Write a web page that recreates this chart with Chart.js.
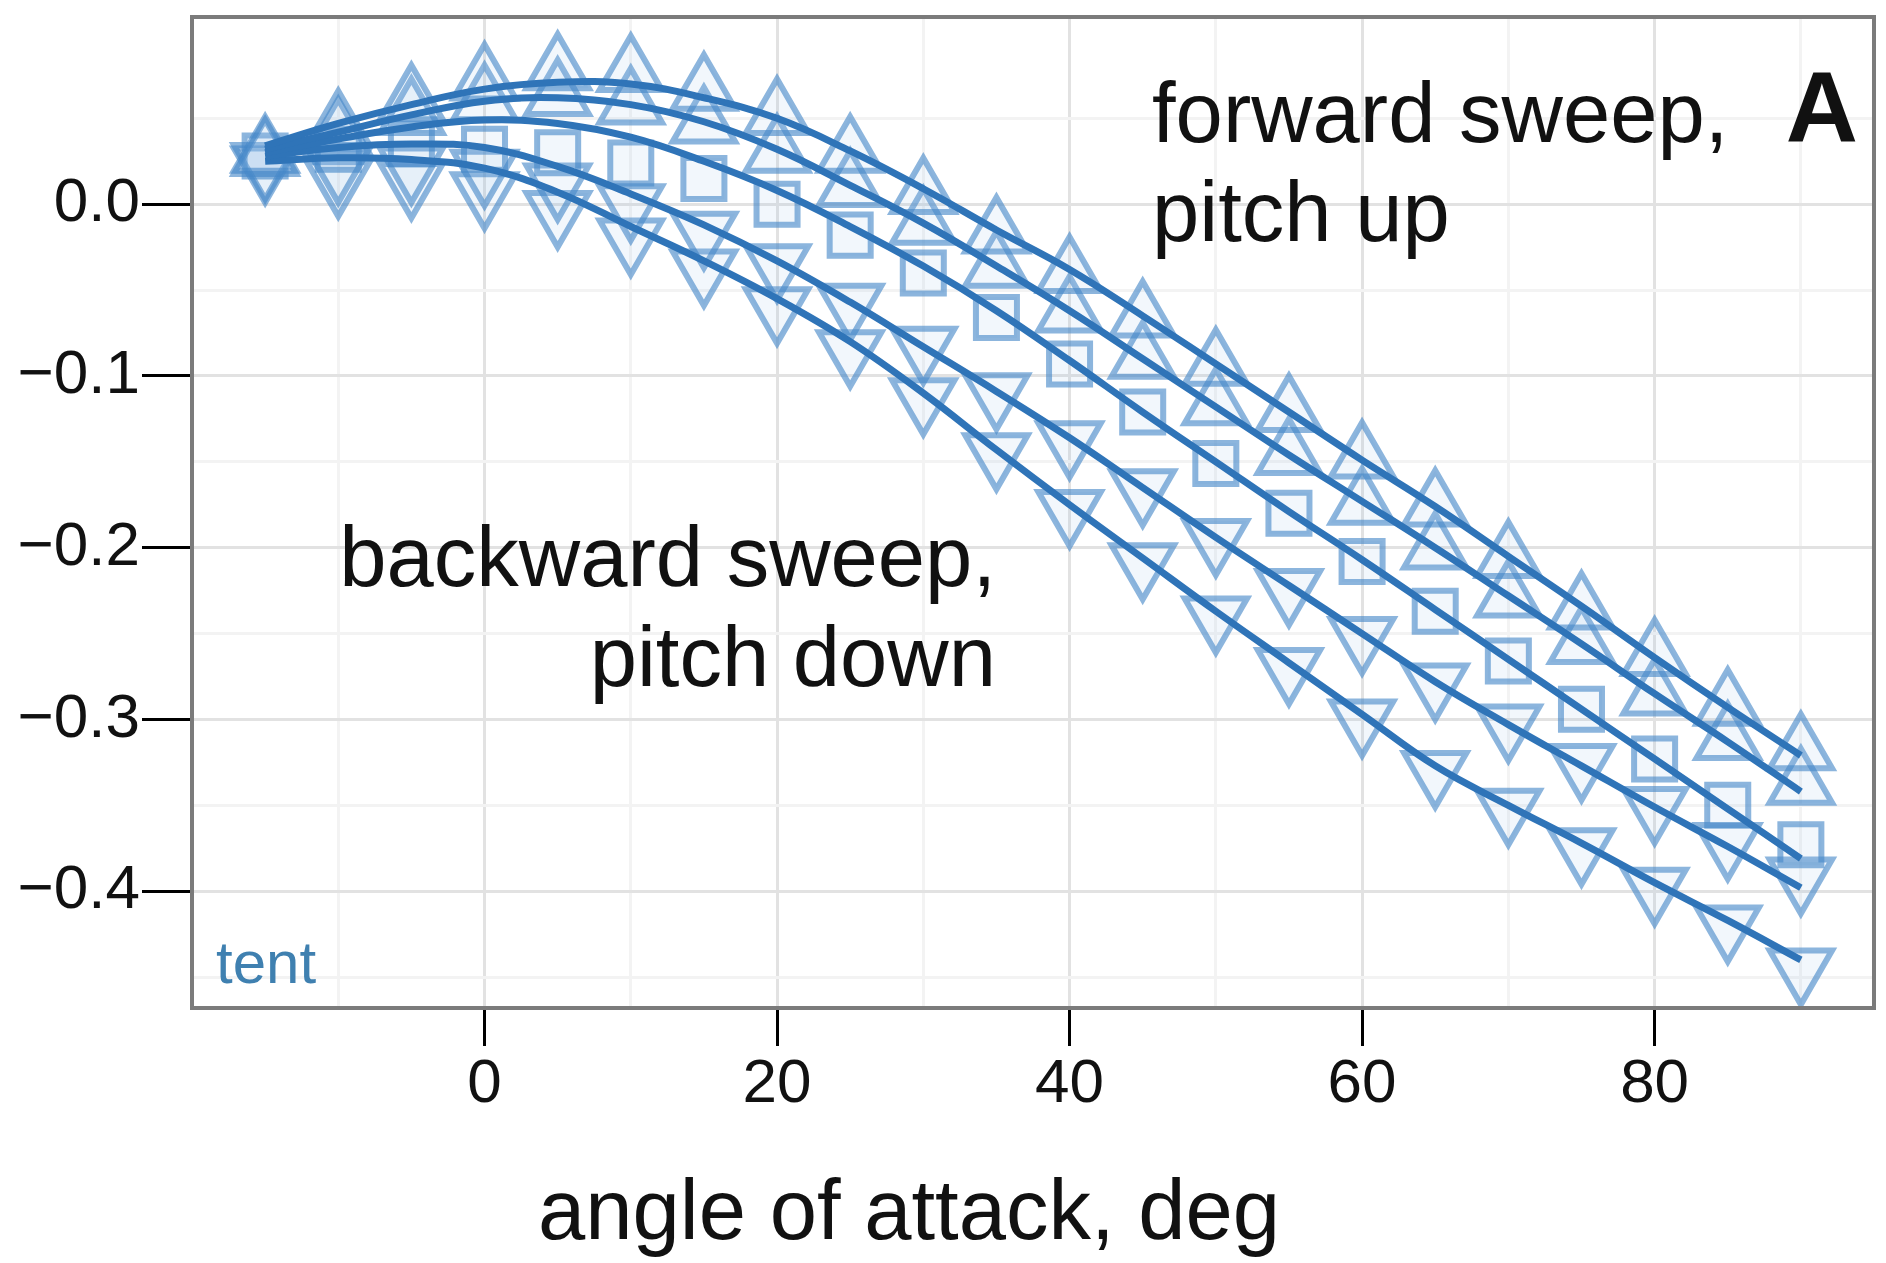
<!DOCTYPE html>
<html lang="en">
<head>
  <meta charset="UTF-8">
  <title>angle of attack</title>
  <script src="https://cdn.jsdelivr.net/npm/chart.js"></script>
  <style>
    body { margin: 0; background: #fff; }
    #wrap { width: 1886px; height: 1263px; position: relative; }
  </style>
</head>
<body>
  <div id="wrap"><canvas id="chart"></canvas></div>

  <script>
    // angle of attack (deg) for every point
    const angles = [-15, -10, -5, 0, 5, 10, 15, 20, 25, 30, 35, 40, 45, 50, 55, 60, 65, 70, 75, 80, 85, 90];

    // fitted curves, top to bottom
    const fit1 = [0.034, 0.047, 0.058, 0.067, 0.071, 0.070, 0.062, 0.050, 0.031, 0.009, -0.015, -0.038, -0.065, -0.093, -0.121, -0.149, -0.176, -0.205, -0.234, -0.264, -0.293, -0.321];
    const fit2 = [0.032, 0.042, 0.052, 0.060, 0.062, 0.058, 0.048, 0.032, 0.011, -0.011, -0.036, -0.062, -0.090, -0.118, -0.146, -0.173, -0.200, -0.228, -0.256, -0.285, -0.313, -0.342];
    const fit3 = [0.030, 0.038, 0.045, 0.049, 0.047, 0.039, 0.025, 0.008, -0.013, -0.036, -0.062, -0.091, -0.121, -0.150, -0.179, -0.207, -0.236, -0.265, -0.294, -0.323, -0.352, -0.381];
    const fit4 = [0.028, 0.033, 0.035, 0.033, 0.022, 0.006, -0.012, -0.033, -0.057, -0.083, -0.109, -0.136, -0.165, -0.194, -0.222, -0.250, -0.278, -0.303, -0.327, -0.351, -0.374, -0.398];
    const fit5 = [0.025, 0.027, 0.026, 0.021, 0.007, -0.013, -0.033, -0.055, -0.080, -0.110, -0.143, -0.175, -0.206, -0.237, -0.267, -0.297, -0.327, -0.350, -0.372, -0.395, -0.417, -0.440];

    // measured points (markers)
    const upA  = [0.030, 0.045, 0.060, 0.072, 0.078, 0.077, 0.066, 0.052, 0.030, 0.006, -0.017, -0.040, -0.066, -0.094, -0.121, -0.148, -0.176, -0.206, -0.236, -0.263, -0.292, -0.318];
    const upB  = [0.028, 0.040, 0.052, 0.060, 0.063, 0.058, 0.047, 0.030, 0.010, -0.012, -0.037, -0.063, -0.090, -0.117, -0.146, -0.175, -0.201, -0.229, -0.256, -0.286, -0.312, -0.338];
    const sq   = [0.028, 0.032, 0.035, 0.032, 0.030, 0.024, 0.015, 0.000, -0.018, -0.040, -0.066, -0.093, -0.121, -0.151, -0.180, -0.208, -0.237, -0.266, -0.294, -0.323, -0.350, -0.373];
    const dnA  = [0.024, 0.022, 0.022, 0.020, 0.012, 0.000, -0.016, -0.035, -0.058, -0.083, -0.110, -0.138, -0.166, -0.195, -0.224, -0.252, -0.279, -0.303, -0.326, -0.351, -0.372, -0.392];
    const dnB  = [0.022, 0.014, 0.013, 0.007, -0.004, -0.020, -0.038, -0.060, -0.085, -0.113, -0.145, -0.178, -0.209, -0.240, -0.270, -0.300, -0.330, -0.352, -0.375, -0.398, -0.420, -0.445];

    const xTicksMajor = [0, 20, 40, 60, 80];
    const yTicksMajor = [0.0, -0.1, -0.2, -0.3, -0.4];

    const FONT = "'Liberation Sans', Arial, Helvetica, sans-serif";
    const lineColor = '#2f74b8';
    const markColor = 'rgba(70, 135, 200, 0.62)';
    const markFill = 'rgba(150, 190, 230, 0.12)';

    const pts = arr => arr.map((v, i) => ({ x: angles[i], y: v }));

    function fitSet(arr) {
      return {
        data: pts(arr), borderColor: lineColor, borderWidth: 7,
        pointRadius: 0, tension: 0.4, fill: false, order: 0
      };
    }
    function markSet(arr, style, rot, r) {
      return {
        data: pts(arr), showLine: false, pointStyle: style, rotation: rot,
        pointRadius: r, pointBorderWidth: 6, pointBorderColor: markColor,
        pointBackgroundColor: markFill, order: 1
      };
    }

    const isMajorX = v => v % 20 === 0;
    const isMajorY = v => Math.abs(v * 10 - Math.round(v * 10)) < 1e-6;

    const frameAndText = {
      id: 'frameAndText',
      afterDraw(chart) {
        const { ctx, chartArea: a } = chart;
        ctx.save();
        ctx.strokeStyle = '#7b7b7b';
        ctx.lineWidth = 4;
        ctx.strokeRect(a.left, a.top, a.right - a.left, a.bottom - a.top);

        ctx.fillStyle = '#111';
        ctx.textBaseline = 'alphabetic';
        ctx.font = '85px ' + FONT;
        ctx.textAlign = 'left';
        ctx.fillText('forward sweep,', 1152, 142);
        ctx.fillText('pitch up', 1152, 241);
        ctx.textAlign = 'right';
        ctx.fillText('backward sweep,', 996, 586);
        ctx.fillText('pitch down', 996, 686);
        ctx.textAlign = 'center';
        ctx.fillText('angle of attack, deg', 909, 1239);

        ctx.font = 'bold 100px ' + FONT;
        ctx.textAlign = 'right';
        ctx.fillText('A', 1858, 142);

        ctx.font = '60px ' + FONT;
        ctx.textAlign = 'left';
        ctx.fillStyle = '#3f80b0';
        ctx.fillText('tent', 216, 983);
        ctx.restore();
      }
    };

    new Chart(document.getElementById('chart'), {
      type: 'line',
      data: {
        datasets: [
          fitSet(fit1), fitSet(fit2), fitSet(fit3), fitSet(fit4), fitSet(fit5),
          markSet(upA, 'triangle', 0, 36), markSet(upB, 'triangle', 0, 36),
          markSet(sq, 'rect', 0, 29),
          markSet(dnA, 'triangle', 180, 36), markSet(dnB, 'triangle', 180, 36)
        ]
      },
      options: {
        responsive: true,
        maintainAspectRatio: false,
        animation: false,
        devicePixelRatio: 1,
        layout: { autoPadding: false, padding: { left: 0, right: 12, top: 17, bottom: 0 } },
        plugins: { legend: { display: false }, tooltip: { enabled: false } },
        scales: {
          x: {
            type: 'linear', min: -20, max: 95,
            afterBuildTicks: s => { s.ticks = [-10, 0, 10, 20, 30, 40, 50, 60, 70, 80, 90].map(v => ({ value: v })); },
            afterFit: s => { s.height = 255; s.paddingLeft = 0; s.paddingRight = 0; },
            border: { display: false },
            grid: {
              color: c => isMajorX(c.tick.value) ? '#e2e2e2' : '#f3f3f3',
              lineWidth: 3,
              tickColor: c => isMajorX(c.tick.value) ? '#000' : 'rgba(0,0,0,0)',
              tickLength: 38, tickWidth: 3
            },
            ticks: {
              autoSkip: false, maxRotation: 0, padding: 2,
              color: '#111', font: { family: FONT, size: 62 },
              callback: v => xTicksMajor.includes(v) ? String(v) : ''
            }
          },
          y: {
            type: 'linear', min: -0.468, max: 0.109,
            afterBuildTicks: s => { s.ticks = [-0.45, -0.4, -0.35, -0.3, -0.25, -0.2, -0.15, -0.1, -0.05, 0, 0.05].map(v => ({ value: v })); },
            afterFit: s => { s.width = 192; s.paddingTop = 0; s.paddingBottom = 0; },
            border: { display: false },
            grid: {
              color: c => isMajorY(c.tick.value) ? '#e2e2e2' : '#f3f3f3',
              lineWidth: 3,
              tickColor: c => isMajorY(c.tick.value) ? '#000' : 'rgba(0,0,0,0)',
              tickLength: 50, tickWidth: 3
            },
            ticks: {
              autoSkip: false, padding: 2,
              color: '#111', font: { family: FONT, size: 62 },
              callback: v => {
                if (!isMajorY(v) || !yTicksMajor.some(t => Math.abs(t - v) < 1e-6)) return '';
                return Math.abs(v) < 1e-9 ? '0.0' : '\u2212' + Math.abs(v).toFixed(1);
              }
            }
          }
        }
      },
      plugins: [frameAndText]
    });
  </script>
</body>
</html>
